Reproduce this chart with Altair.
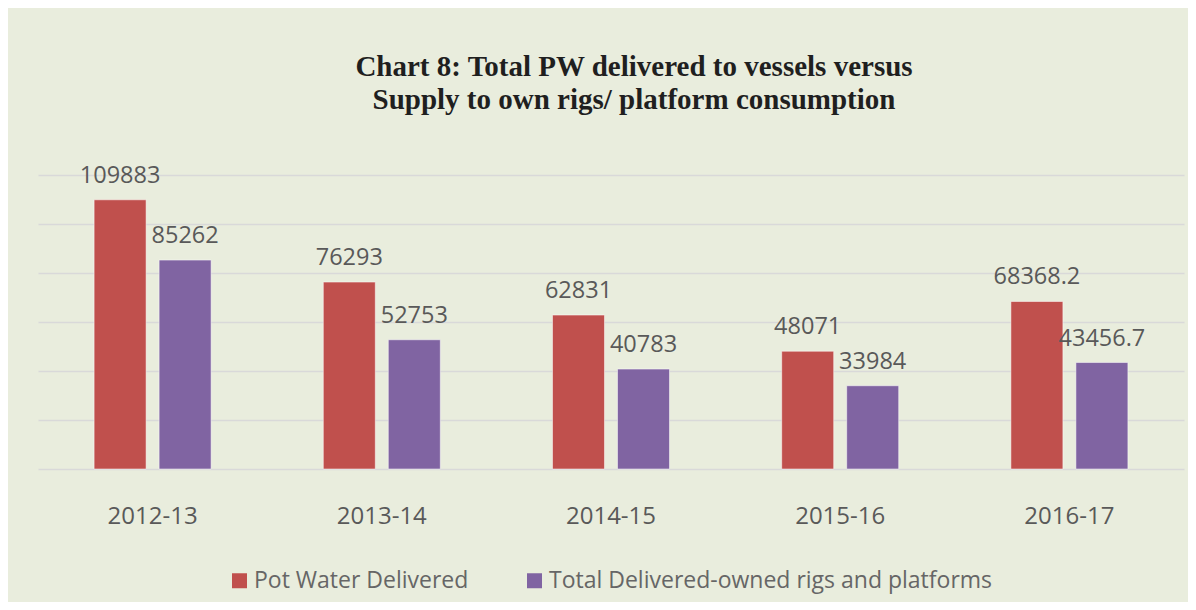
import altair as alt
import pandas as pd

years = ["2012-13", "2013-14", "2014-15", "2015-16", "2016-17"]
pot_water = [109883, 76293, 62831, 48071, 68368.2]
own_rigs = [85262, 52753, 40783, 33984, 43456.7]
pot_labels = ["109883", "76293", "62831", "48071", "68368.2"]
rig_labels = ["85262", "52753", "40783", "33984", "43456.7"]
series = ["Pot Water Delivered", "Total Delivered-owned rigs and platforms"]
colors = ["#C0504D", "#8064A2"]

rows = []
for i, y in enumerate(years):
    rows.append({"year": y, "series": series[0], "value": pot_water[i], "label": pot_labels[i]})
    rows.append({"year": y, "series": series[1], "value": own_rigs[i], "label": rig_labels[i]})
df = pd.DataFrame(rows)

FONT = "Open Sans"
GRAY = "#595959"

x = alt.X("year:N", sort=years, title=None,
          scale=alt.Scale(paddingInner=0, paddingOuter=0),
          axis=alt.Axis(labelAngle=0, labelFont=FONT, labelFontSize=24, labelColor=GRAY,
                        ticks=False, domain=False, labelPadding=35))
xo = alt.XOffset("series:N", sort=series,
                 scale=alt.Scale(paddingInner=0.2, paddingOuter=0.863))
y = alt.Y("value:Q", title=None,
          scale=alt.Scale(domain=[0, 120000], nice=False),
          axis=alt.Axis(values=[0, 20000, 40000, 60000, 80000, 100000, 120000],
                        labels=False, ticks=False, domain=False,
                        gridColor="#D9D9D9", gridWidth=1.5))

bars = alt.Chart(df).mark_bar(strokeWidth=1, strokeOpacity=0.5, stroke="#ffffff").encode(
    x=x, xOffset=xo, y=y,
    color=alt.Color("series:N", sort=series,
                    scale=alt.Scale(domain=series, range=colors),
                    legend=alt.Legend(title=None, orient="none", legendX=190, legendY=394,
                                      direction="horizontal", columns=2, columnPadding=54,
                                      symbolType="square", symbolSize=225, symbolStrokeWidth=0,
                                      labelFont=FONT, labelFontSize=23, labelColor="#666666",
                                      labelOffset=3, labelLimit=700)),
)

labels = alt.Chart(df).mark_text(font=FONT, fontSize=23.5, color=GRAY,
                                 baseline="alphabetic", dy=-17).encode(
    x=x, xOffset=xo, y=y, text="label:N"
)

chart = (bars + labels).properties(
    width=1146, height=294,
    title=alt.TitleParams(
        text=["Chart 8: Total PW delivered to vessels versus",
              "Supply to own rigs/ platform consumption"],
        font="Liberation Serif", fontSize=29, fontWeight="bold", color="#1F1F1F",
        lineHeight=33, anchor="middle", dx=23, offset=49),
    autosize=alt.AutoSizeParams(type="none"),
    padding={"left": 30, "top": 167, "right": 4, "bottom": 133},
    background="#E9EDDD",
).configure_view(stroke=None)

chart.save("out.html", embed_options={"renderer": "svg", "actions": False})
